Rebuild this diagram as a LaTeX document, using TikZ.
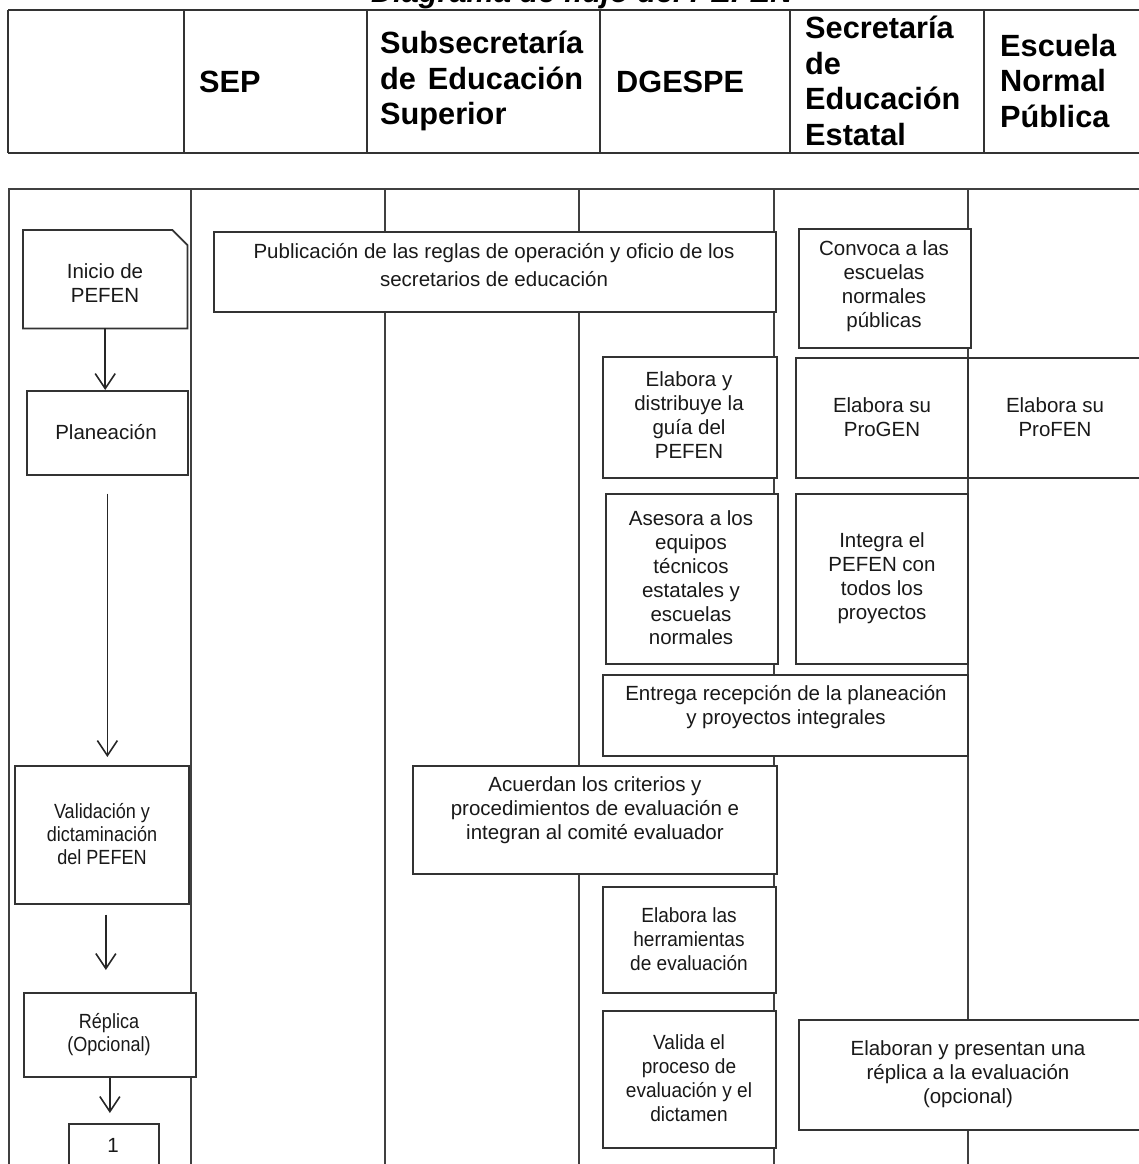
\documentclass[tikz,border=0pt]{standalone}
\usepackage{fontspec}
\setmainfont{Liberation Sans}
\newfontfamily\narrowA[FakeStretch=0.88]{Liberation Sans}
\newfontfamily\narrowB[FakeStretch=0.93]{Liberation Sans}
\usetikzlibrary{arrows.meta}
\begin{document}
\begin{tikzpicture}[x=1pt,y=-1pt,
  lane/.style={draw=black!75, line width=1.6pt},
  hdrline/.style={draw=black!80, line width=2.2pt},
  box/.style={draw=black!80, fill=white, line width=1.7pt, inner sep=0pt, anchor=north west},
  nobox/.style={inner sep=0pt, anchor=north west},
  txt/.style={align=center, inner sep=0pt, text=black!90, font=\fontsize{20.5}{23.8}\selectfont},
  smalltxt/.style={align=center, inner sep=0pt, text=black!90, font=\narrowA\fontsize{20.5}{23}\selectfont},
  midtxt/.style={align=center, inner sep=0pt, text=black!90, font=\narrowB\fontsize{20.5}{24}\selectfont},
  hdr/.style={align=left, inner sep=0pt, anchor=west, font=\fontsize{30.7}{35.5}\selectfont\bfseries},
  flow/.style={draw=black!85, line width=1.6pt, -{Straight Barb[length=15pt,width=20pt]}}]
\useasboundingbox (0,0) rectangle (1138,1164);

% title (cut at the top of the page, as in the reference)
\node[anchor=base west, inner sep=0pt, font=\fontsize{30.7}{35}\selectfont\bfseries\itshape] (title) at (371,3) {Diagrama de flujo del PEFEN};

% header table
\draw[hdrline] (8,10) -- (1145,10);
\draw[hdrline] (8,153) -- (1145,153);
\foreach \hx in {8,184,367,600,790,984} \draw[hdrline] (\hx,10) -- (\hx,153);
\node[hdr] (hsep) at (199,82) {SEP};
\node[hdr] (hsub) at (380,81) {Subsecretaría\\\makebox[203pt][s]{de Educación}\\Superior};
\node[hdr] (hdge) at (616,82) {DGESPE};
\node[hdr] (hsec) at (805,81) {Secretaría\\de\\Educación\\Estatal};
\node[hdr] (hesc) at (1000,81) {Escuela\\Normal\\Pública};

% swim lanes
\draw[lane] (1145,189) -- (9,189) -- (9,1170);
\foreach \lx in {191,385,579,774,968} \draw[lane] (\lx,189) -- (\lx,1170);

% left lane
\node[nobox, minimum width=164pt, minimum height=98pt] (inicio) at (23,230) {};
\draw[draw=black!80, fill=white, line width=1.7pt, line join=miter]
  (inicio.north west) -- ([xshift=-15pt]inicio.north east) -- ([yshift=-15pt]inicio.north east)
  -- (inicio.south east) -- (inicio.south west) -- cycle;
\node[txt] (tinicio) at (105,283) {Inicio de\\PEFEN};

\node[box, minimum width=161pt, minimum height=84pt] (plan) at (26,390) {};
\node[txt] (tplan) at (106,432) {Planeación};

\node[box, minimum width=174pt, minimum height=138pt] (valid) at (14,765) {};
\node[smalltxt] (tvalid) at (102,834) {Validación y\\dictaminación\\del PEFEN};

\node[box, minimum width=172pt, minimum height=84pt] (replica) at (23,992) {};
\node[smalltxt] (treplica) at (109,1035) {Réplica\\(Opcional)};

\node[box, minimum width=90pt, minimum height=70pt] (one) at (68,1123) {};
\node[txt] (tone) at (113,1145) {1};

\draw[flow] (inicio.south) -- (inicio.south |- plan.north);
\draw[flow, shorten <=18pt, shorten >=8pt] (plan.south) -- (plan.south |- valid.north);
\draw[flow, shorten <=10pt, shorten >=22pt] ([xshift=4pt]valid.south) -- ([xshift=4pt]valid.south |- replica.north);
\draw[flow, shorten >=10pt] (replica.south) -- (replica.south |- one.north);

% activity boxes
\node[box, minimum width=562pt, minimum height=80pt] (pub) at (213,231) {};
\node[txt, font=\fontsize{20.5}{27.5}\selectfont] (tpub) at (494,265) {Publicación de las reglas de operación y oficio de los\\secretarios de educación};

\node[box, minimum width=172pt, minimum height=119pt] (conv) at (798,228) {};
\node[txt] (tconv) at (884,286) {Convoca a las\\escuelas\\normales\\públicas};

\node[box, minimum width=174pt, minimum height=121pt] (guia) at (602,356) {};
\node[txt] (tguia) at (689,415) {Elabora y\\distribuye la\\guía del\\PEFEN};

\node[box, minimum width=172pt, minimum height=120pt] (progen) at (795,357) {};
\node[txt] (tprogen) at (882,417) {Elabora su\\ProGEN};

\node[box, minimum width=190pt, minimum height=120pt] (profen) at (967,357) {};
\node[txt] (tprofen) at (1055,417) {Elabora su\\ProFEN};

\node[box, minimum width=172pt, minimum height=170pt] (asesora) at (605,493) {};
\node[txt] (tasesora) at (691,578) {Asesora a los\\equipos\\técnicos\\estatales y\\escuelas\\normales};

\node[box, minimum width=172pt, minimum height=170pt] (integra) at (795,493) {};
\node[txt] (tintegra) at (882,578) {Integra el\\PEFEN con\\todos los\\proyectos};

\node[box, minimum width=365pt, minimum height=81pt] (entrega) at (602,674) {};
\node[txt] (tentrega) at (786,707) {Entrega recepción de la planeación\\y proyectos integrales};

\node[box, minimum width=364pt, minimum height=108pt] (acuerdan) at (412,765) {};
\node[txt] (tacuerdan) at (595,810) {Acuerdan los criterios y\\procedimientos de evaluación e\\integran al comité evaluador};

\node[box, minimum width=173pt, minimum height=106pt] (herram) at (602,886) {};
\node[midtxt] (therram) at (689,939) {Elabora las\\herramientas\\de evaluación};

\node[box, minimum width=173pt, minimum height=137pt] (valida) at (602,1010) {};
\node[midtxt] (tvalida) at (689,1078) {Valida el\\proceso de\\evaluación y el\\dictamen};

\node[box, minimum width=350pt, minimum height=110pt] (elaboran) at (798,1019) {};
\node[txt] (telaboran) at (968,1074) {Elaboran y presentan una\\réplica a la evaluación\\(opcional)};
\end{tikzpicture}
\end{document}
